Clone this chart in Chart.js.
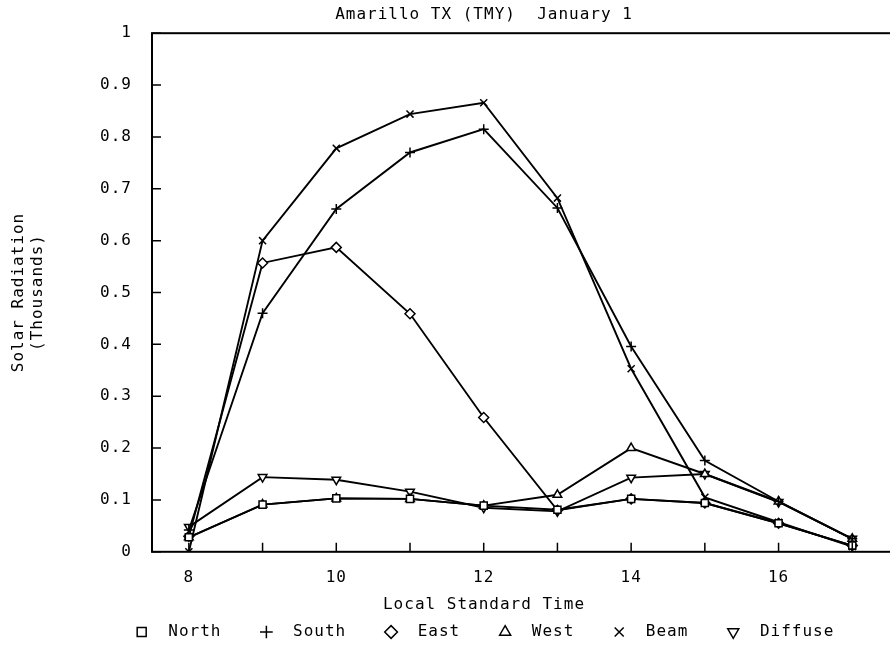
<!DOCTYPE html>
<html>
<head>
<meta charset="utf-8">
<script src="https://cdn.jsdelivr.net/npm/chart.js@4.4.1/dist/chart.umd.min.js"></script>
<style>
  html, body { margin: 0; padding: 0; background: #fff; overflow: hidden; }
  canvas { display: block; }
</style>
</head>
<body>
<canvas id="myChart" width="968" height="650"></canvas>
<script>
// hours of the day (local standard time)
const hours = [8, 9, 10, 11, 12, 13, 14, 15, 16, 17]
const xTickLabels = [8, 10, 12, 14, 16]

// solar radiation, thousands
const north   = [0.028, 0.091, 0.103, 0.102, 0.089, 0.081, 0.102, 0.094, 0.055, 0.012]
const south   = [0.042, 0.460, 0.661, 0.770, 0.815, 0.663, 0.396, 0.176, 0.097, 0.025]
const east    = [0.030, 0.557, 0.587, 0.459, 0.259, 0.080, 0.102, 0.094, 0.055, 0.012]
const west    = [0.028, 0.091, 0.103, 0.102, 0.089, 0.110, 0.200, 0.150, 0.097, 0.025]
const beam    = [0.000, 0.600, 0.778, 0.844, 0.866, 0.682, 0.353, 0.105, 0.057, 0.010]
const diffuse = [0.048, 0.144, 0.139, 0.116, 0.085, 0.078, 0.143, 0.150, 0.096, 0.025]

const seriesNames = ['North', 'South', 'East', 'West', 'Beam', 'Diffuse']
const seriesValues = [north, south, east, west, beam, diffuse]
const markers = ['rect', 'cross', 'rectRot', 'triangle', 'crossRot', 'triangle']
const rotations = [0, 0, 0, 0, 0, 180]

Chart.defaults.font.family = "'DejaVu Sans Mono', monospace"
Chart.defaults.font.size = 16
Chart.defaults.color = '#000'

const datasets = seriesNames.map((name, i) => ({
    label: name,
    data: hours.map((h, j) => ({x: h, y: seriesValues[i][j]})),
    borderColor: '#000',
    backgroundColor: '#fff',
    borderWidth: 1.9,
    pointStyle: markers[i],
    pointRotation: rotations[i],
    pointRadius: 5,
    pointBorderWidth: 1.5,
    pointBorderColor: '#000',
    pointBackgroundColor: '#fff',
    tension: 0
}))

// wider letters, like the old plotter font
const spacing = {
    id: 'spacing',
    beforeUpdate(chart) { chart.ctx.letterSpacing = '1px' },
    beforeDraw(chart) { chart.ctx.letterSpacing = '1px' }
}

// frame and inward tick marks
const frame = {
    id: 'frame',
    afterDraw(chart) {
        const ctx = chart.ctx
        const a = chart.chartArea
        const xs = chart.scales.x
        const ys = chart.scales.y
        ctx.save()
        ctx.strokeStyle = '#000'
        ctx.lineWidth = 2
        ctx.strokeRect(a.left, a.top, a.right - a.left, a.bottom - a.top)
        ctx.lineWidth = 1.5
        ctx.beginPath()
        xs.ticks.forEach(t => {
            const px = xs.getPixelForValue(t.value)
            ctx.moveTo(px, a.bottom)
            ctx.lineTo(px, a.bottom - 9)
        })
        ys.ticks.forEach(t => {
            const py = ys.getPixelForValue(t.value)
            ctx.moveTo(a.left, py)
            ctx.lineTo(a.left + 9, py)
        })
        ctx.stroke()
        ctx.restore()
    }
}

const config = {
    type: 'line',
    data: { datasets: datasets },
    options: {
        responsive: false,
        animation: false,
        layout: { padding: 0 },
        scales: {
            x: {
                type: 'linear',
                min: 7.5,
                max: 18,
                grid: { display: false, drawTicks: false },
                border: { display: false },
                afterBuildTicks: axis => { axis.ticks = hours.map(v => ({value: v})) },
                afterFit: scale => { scale.height = 41 },
                ticks: {
                    padding: 16,
                    autoSkip: false,
                    maxRotation: 0,
                    callback: v => xTickLabels.includes(v) ? String(v) : ''
                }
            },
            y: {
                min: 0,
                max: 1,
                grid: { display: false, drawTicks: false },
                border: { display: false },
                afterFit: scale => { scale.width = 152 },
                ticks: {
                    stepSize: 0.1,
                    padding: 20,
                    callback: v => String(Number(v.toFixed(1)))
                },
                title: {
                    display: true,
                    text: ['Solar Radiation', '(Thousands)'],
                    padding: { top: 9, bottom: 0 }
                }
            },
            // empty right margin, the original frame runs past the picture
            y2: {
                position: 'right',
                grid: { display: false, drawTicks: false },
                border: { display: false },
                ticks: { display: false },
                afterFit: scale => { scale.width = 42 }
            }
        },
        plugins: {
            title: {
                display: true,
                text: 'Amarillo TX (TMY)  January 1',
                font: { weight: 'normal' },
                padding: { top: 5, bottom: 9 }
            },
            subtitle: {
                display: true,
                position: 'bottom',
                weight: 500,
                text: 'Local Standard Time',
                padding: { top: 2, bottom: 5 }
            },
            legend: {
                position: 'bottom',
                labels: {
                    usePointStyle: true,
                    boxWidth: 16,
                    boxHeight: 9,
                    padding: 5,
                    generateLabels: chart => {
                        const items = Chart.defaults.plugins.legend.labels.generateLabels(chart)
                        return items.map((it, i) => {
                            it.text = ' ' + it.text + (i < items.length - 1 ? '   ' : '')
                            return it
                        })
                    }
                }
            },
            tooltip: { enabled: false }
        }
    },
    plugins: [spacing, frame]
}

const myChart = new Chart(
    document.getElementById('myChart'),
    config
)
</script>
</body>
</html>
